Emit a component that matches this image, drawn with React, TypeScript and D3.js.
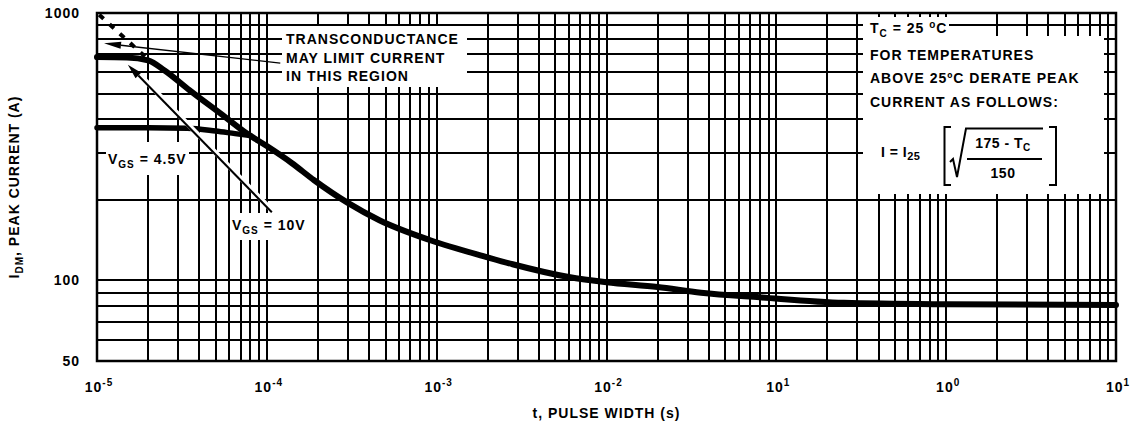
import React from "react";
import * as d3 from "d3";

const W = 1130;
const H = 426;
const m = { left: 97, right: 14, top: 13, bottom: 65 };

// V_GS = 10V peak current curve (s, A)
const pulseWidth10V = [
  1e-5, 1.5e-5, 2e-5, 2.5e-5, 3.5e-5, 5.5e-5, 7.6e-5, 1e-4, 1.4e-4, 1.9e-4,
  3e-4, 4.6e-4, 9e-4, 2e-3, 2.8e-3, 6e-3, 1e-2, 2e-2, 3.6e-2, 8e-2, 0.25, 1, 10,
];
const current10V = [
  684, 682, 665, 610, 515, 415, 355, 318, 275, 237, 195, 168, 142, 122, 115,
  103, 98.5, 94.5, 90, 86.5, 82.5, 81.5, 81,
];

// V_GS = 4.5V curve, merges into the 10V one
const pulseWidth45V = [1e-5, 2e-5, 3.4e-5, 5e-5, 6.5e-5, 8e-5];
const current45V = [372, 372, 371, 362, 354, 348];

// transconductance limit (dashed)
const pulseWidthGfs = [1.03e-5, 1.95e-5];
const currentGfs = [985, 680];

// axis ticks
const xDecades = [1e-5, 1e-4, 1e-3, 1e-2, 1e-1, 1, 10];
const xExponents = ["-5", "-4", "-3", "-2", "1", "0", "1"];
const yLabels = [50, 100, 1000];

const font = "'Liberation Sans', Arial, Helvetica, sans-serif";

const x = d3.scaleLog().domain([1e-5, 10]).range([m.left, W - m.right]);
const y = d3.scaleLog().domain([50, 1000]).range([H - m.bottom, m.top]);

const line = d3
  .line<[number, number]>()
  .x((d) => x(d[0]))
  .y((d) => y(d[1]))
  .curve(d3.curveMonotoneX);

const Arrow = ({ tip, tail, head = 15, half = 4, width = 1.5, halo = false }) => {
  const [tx, ty] = [x(tip[0]), y(tip[1])];
  const [sx, sy] = [x(tail[0]), y(tail[1])];
  const len = Math.hypot(sx - tx, sy - ty);
  const ux = (sx - tx) / len;
  const uy = (sy - ty) / len;
  const bx = tx + ux * head;
  const by = ty + uy * head;
  const pts = `${tx},${ty} ${bx - uy * half},${by + ux * half} ${bx + uy * half},${by - ux * half}`;
  return (
    <g>
      {halo && (
        <line x1={bx + 2} y1={by} x2={sx + 2} y2={sy} stroke="#fff" strokeWidth={5} />
      )}
      <line x1={bx} y1={by} x2={sx} y2={sy} stroke="#000" strokeWidth={width} />
      <polygon points={pts} fill="#000" />
    </g>
  );
};

export default function App() {
  const xGrid = x.ticks();
  const yGrid = y.ticks();
  const d10 = line(pulseWidth10V.map((t, i) => [t, current10V[i]]));
  const d45 = line(pulseWidth45V.map((t, i) => [t, current45V[i]]));
  const dGfs = line(pulseWidthGfs.map((t, i) => [t, currentGfs[i]]));

  const txt = {
    fontFamily: font,
    fontWeight: 700,
    fontSize: 14,
    letterSpacing: 1,
    fill: "#000",
  } as const;

  return (
    <svg
      width={W}
      height={H}
      style={{ position: "absolute", left: 0, top: 0, background: "#fff" }}
    >
      {/* grid */}
      <g stroke="#000" strokeWidth={2}>
        {xGrid.map((t, i) => (
          <line
            key={"vx" + i}
            x1={Math.round(x(t))}
            x2={Math.round(x(t))}
            y1={m.top}
            y2={H - m.bottom}
          />
        ))}
        {yGrid.map((v, i) => (
          <line
            key={"hy" + i}
            x1={m.left}
            x2={W - m.right}
            y1={Math.round(y(v))}
            y2={Math.round(y(v))}
          />
        ))}
      </g>

      {/* white boxes behind the notes */}
      <g fill="#fff">
        <rect x={282} y={26} width={185} height={61} />
        <rect x={863} y={17} width={86} height={22} />
        <rect x={863} y={36} width={241} height={158} />
        <rect x={106} y={142} width={83} height={33} />
        <rect x={230} y={213} width={82} height={27} />
      </g>

      <rect
        x={m.left}
        y={m.top}
        width={W - m.left - m.right}
        height={H - m.top - m.bottom}
        fill="none"
        stroke="#000"
        strokeWidth={2.5}
      />

      {/* curves */}
      <path d={d45 || ""} fill="none" stroke="#000" strokeWidth={5.5} strokeLinecap="round" />
      <path d={d10 || ""} fill="none" stroke="#000" strokeWidth={6} strokeLinecap="round" />
      <path d={dGfs || ""} fill="none" stroke="#000" strokeWidth={4} strokeDasharray="6,8" />

      {/* arrows */}
      <Arrow tip={[1.1e-5, 770]} tail={[1.2e-4, 650]} head={17} half={3.5} width={1.3} />
      <Arrow tip={[1.52e-5, 640]} tail={[1.07e-4, 180]} head={15} half={4} width={2} halo />

      {/* y tick labels */}
      {yLabels.map((v) => (
        <text key={v} x={80} y={y(v) + 5} textAnchor="end" {...txt}>
          {v}
        </text>
      ))}

      {/* x tick labels */}
      {xDecades.map((t, i) => (
        <text key={t} x={x(t) + 2} y={392} textAnchor="middle" {...txt}>
          10
          <tspan fontSize={10} dy={-6}>
            {xExponents[i]}
          </tspan>
        </text>
      ))}

      {/* axis titles */}
      <text x={(m.left + W - m.right) / 2} y={418} textAnchor="middle" {...txt}>
        t, PULSE WIDTH (s)
      </text>
      <text
        transform={`translate(19, ${(m.top + H - m.bottom) / 2}) rotate(-90)`}
        textAnchor="middle"
        {...txt}
      >
        I
        <tspan fontSize={10} dy={4}>
          DM
        </tspan>
        <tspan dy={-4}>, PEAK CURRENT (A)</tspan>
      </text>

      {/* transconductance note */}
      <text x={286} y={43.5} {...txt}>TRANSCONDUCTANCE</text>
      <text x={286} y={62.5} {...txt}>MAY LIMIT CURRENT</text>
      <text x={286} y={81} {...txt}>IN THIS REGION</text>

      {/* curve labels */}
      <text x={108} y={164} {...txt}>
        V
        <tspan fontSize={10} dy={4}>
          GS
        </tspan>
        <tspan dy={-4}> = 4.5V</tspan>
      </text>
      <text x={232} y={230} {...txt}>
        V
        <tspan fontSize={10} dy={4}>
          GS
        </tspan>
        <tspan dy={-4}> = 10V</tspan>
      </text>

      {/* derating note */}
      <text x={870} y={33} {...txt}>
        T
        <tspan fontSize={10} dy={4}>
          C
        </tspan>
        <tspan dy={-4}> = 25 </tspan>
        <tspan fontSize={10} dy={-5}>
          o
        </tspan>
        <tspan dy={5}>C</tspan>
      </text>
      <text x={870} y={60} {...txt}>FOR TEMPERATURES</text>
      <text x={870} y={83} {...txt}>ABOVE 25ºC DERATE PEAK</text>
      <text x={870} y={106.5} {...txt}>CURRENT AS FOLLOWS:</text>

      <text x={881} y={157} {...txt} letterSpacing={0.5}>
        I = I
        <tspan fontSize={11} dy={3}>
          25
        </tspan>
      </text>
      <g fill="none" stroke="#000" strokeWidth={2}>
        <path d="M951,127 H944.5 V185 H951" />
        <path d="M1049,127 H1056 V185 H1049" />
        <path d="M950,162 L953,159 L957,177 L966,128.5 H1043" />
        <path d="M967,159 H1042" />
      </g>
      <text x={1003} y={148} textAnchor="middle" {...txt} letterSpacing={0.5}>
        175 - T
        <tspan fontSize={10} dy={3}>
          C
        </tspan>
      </text>
      <text x={1003} y={178} textAnchor="middle" {...txt} letterSpacing={0.5}>
        150
      </text>
    </svg>
  );
}
